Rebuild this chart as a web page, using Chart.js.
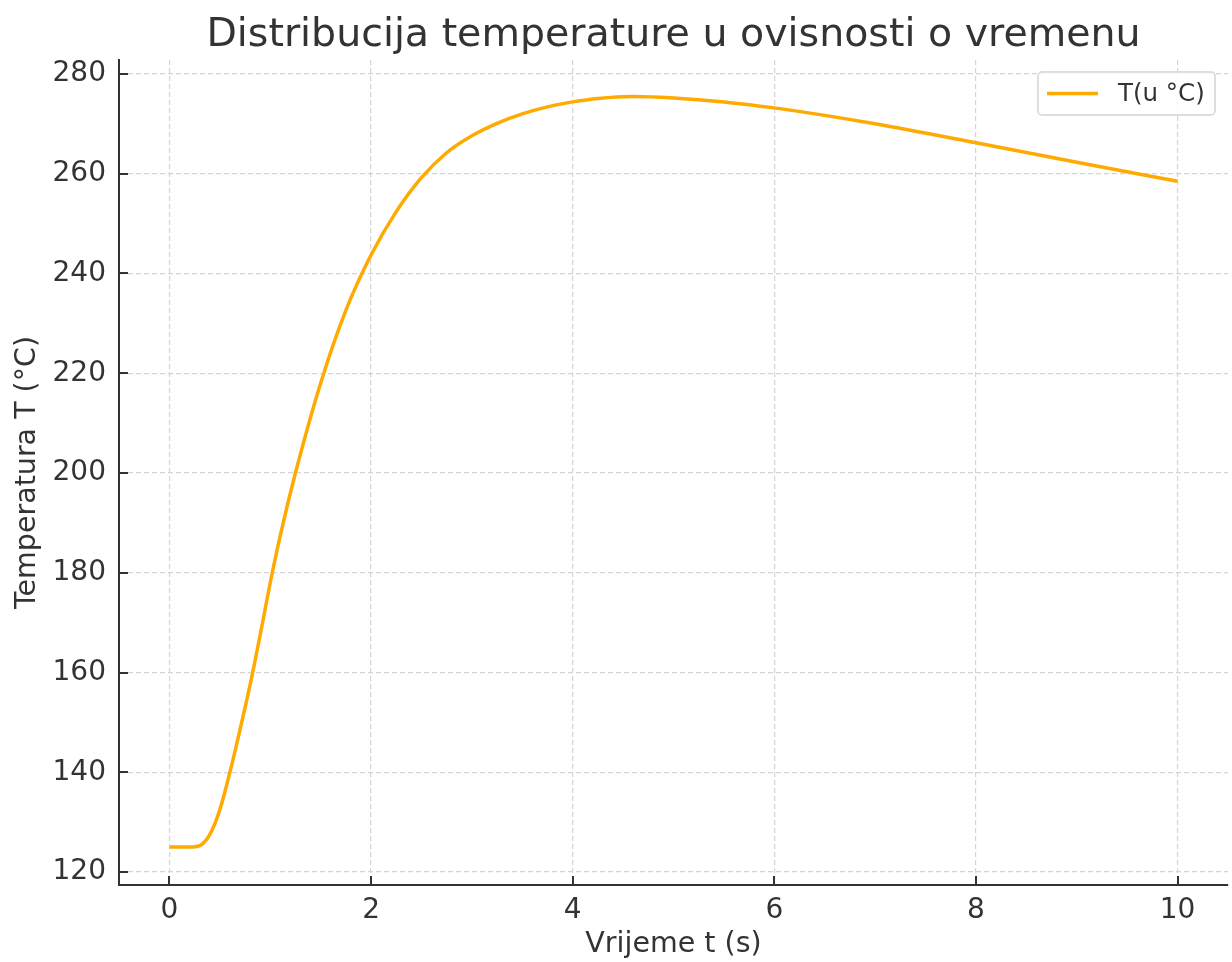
<!DOCTYPE html>
<html>
<head>
<meta charset="utf-8">
<title>Distribucija temperature</title>
<script src="https://cdn.jsdelivr.net/npm/chart.js@4/dist/chart.umd.min.js"></script>
<style>
    html, body { margin: 0; padding: 0; background: #ffffff; }
    #chart { display: block; }
</style>
</head>
<body>
<canvas id="chart" width="1232" height="962"></canvas>
<script>
// --- Data ---
const timeValues = [0, 0.2, 0.3, 0.4, 0.5, 0.6, 0.7, 0.8, 0.9, 1.0, 1.1, 1.25, 1.5, 1.75, 2.0, 2.25, 2.5, 2.75, 3.0, 3.25, 3.5, 3.75, 4.0, 4.25, 4.6, 5.0, 5.5, 6.0, 6.5, 7.0, 8.0, 9.0, 10.0];
const tempValues = [125, 125, 125.3, 127.5, 132.5, 140, 148.5, 157.5, 167.5, 178, 187.5, 200, 218, 232.6, 243.7, 252.4, 259.2, 264.2, 267.6, 270.1, 272.0, 273.4, 274.4, 275.1, 275.5, 275.2, 274.4, 273.2, 271.7, 270.0, 266.2, 262.3, 258.5];
const xTicks = [0, 2, 4, 6, 8, 10];
const yTicks = [120, 140, 160, 180, 200, 220, 240, 260, 280];

const seriesLabel = 'T(u °C)';
const chartTitle = 'Distribucija temperature u ovisnosti o vremenu';
const xLabel = 'Vrijeme t (s)';
const yLabel = 'Temperatura T (°C)';

const FONT = "'DejaVu Sans', sans-serif";
const TEXT = '#333333';
const LINE = '#ffaa00';

// title drawn over the plot area centre, like matplotlib does
const titlePlugin = {
    id: 'plotTitle',
    afterDraw(chart) {
        const { ctx, chartArea } = chart;
        ctx.save();
        ctx.font = `39.5px ${FONT}`;
        ctx.fillStyle = TEXT;
        ctx.textAlign = 'center';
        ctx.textBaseline = 'alphabetic';
        ctx.fillText(chartTitle, (chartArea.left + chartArea.right) / 2, 46);
        ctx.restore();
    }
};

// tick marks pointing into the plot
const innerTicks = {
    id: 'innerTicks',
    afterDraw(chart) {
        const { ctx, chartArea, scales } = chart;
        ctx.save();
        ctx.strokeStyle = TEXT;
        ctx.lineWidth = 2;
        ctx.beginPath();
        xTicks.forEach(v => {
            const x = Math.round(scales.x.getPixelForValue(v));
            ctx.moveTo(x, chartArea.bottom);
            ctx.lineTo(x, chartArea.bottom - 9);
        });
        yTicks.forEach(v => {
            const y = Math.round(scales.y.getPixelForValue(v));
            ctx.moveTo(chartArea.left, y);
            ctx.lineTo(chartArea.left + 9, y);
        });
        ctx.stroke();
        ctx.restore();
    }
};

// legend box inside the plot, top right
const boxLegend = {
    id: 'boxLegend',
    afterDraw(chart) {
        const { ctx, chartArea } = chart;
        const ds = chart.data.datasets[0];
        const w = 177, h = 43;
        const x = chartArea.right - 13 - w;
        const y = chartArea.top + 12;
        ctx.save();
        ctx.beginPath();
        ctx.roundRect(x, y, w, h, 4);
        ctx.fillStyle = 'rgba(255,255,255,0.85)';
        ctx.fill();
        ctx.strokeStyle = '#d4d4d4';
        ctx.lineWidth = 1.5;
        ctx.stroke();

        ctx.strokeStyle = ds.borderColor;
        ctx.lineWidth = 3.5;
        ctx.beginPath();
        ctx.moveTo(x + 9, y + h / 2);
        ctx.lineTo(x + 60, y + h / 2);
        ctx.stroke();

        ctx.font = `24.5px ${FONT}`;
        ctx.fillStyle = TEXT;
        ctx.textAlign = 'left';
        ctx.textBaseline = 'middle';
        ctx.fillText(ds.label, x + 80, y + h / 2 + 1);
        ctx.restore();
    }
};

const gridStyle = {
    color: '#d4d4d4',
    lineWidth: 1.2,
    drawTicks: false
};
const borderStyle = {
    display: true,
    color: TEXT,
    width: 2,
    dash: [5, 3]
};

new Chart(document.getElementById('chart'), {
    type: 'line',
    data: {
        datasets: [{
            label: seriesLabel,
            data: timeValues.map((t, i) => ({ x: t, y: tempValues[i] })),
            borderColor: LINE,
            backgroundColor: LINE,
            borderWidth: 3.5,
            pointRadius: 0,
            fill: false,
            cubicInterpolationMode: 'monotone'
        }]
    },
    options: {
        responsive: false,
        animation: false,
        layout: { padding: { top: 60, right: 4, bottom: 0, left: 0 } },
        plugins: {
            legend: { display: false },
            title: { display: false },
            tooltip: { enabled: false }
        },
        scales: {
            x: {
                type: 'linear',
                min: -0.5,
                max: 10.5,
                afterBuildTicks: scale => { scale.ticks = xTicks.map(v => ({ value: v })); },
                afterFit: scale => { scale.height = 77; },
                grid: gridStyle,
                border: borderStyle,
                ticks: {
                    padding: 9,
                    color: TEXT,
                    font: { family: FONT, size: 28 },
                    maxRotation: 0
                },
                title: {
                    display: true,
                    text: xLabel,
                    color: TEXT,
                    font: { family: FONT, size: 28.5 },
                    padding: { top: 0, bottom: 0 }
                }
            },
            y: {
                type: 'linear',
                min: 117.4,
                max: 282.8,
                afterBuildTicks: scale => { scale.ticks = yTicks.map(v => ({ value: v })); },
                afterFit: scale => { scale.width = 119; },
                grid: gridStyle,
                border: borderStyle,
                ticks: {
                    padding: 13,
                    color: TEXT,
                    font: { family: FONT, size: 28 }
                },
                title: {
                    display: true,
                    text: yLabel,
                    color: TEXT,
                    font: { family: FONT, size: 28.5 },
                    padding: { top: 10, bottom: 0 }
                }
            }
        }
    },
    plugins: [titlePlugin, innerTicks, boxLegend]
});
</script>
</body>
</html>
